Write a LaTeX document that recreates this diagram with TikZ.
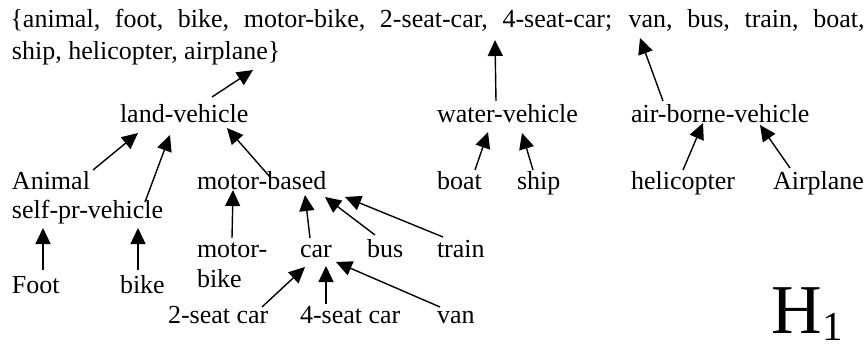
\documentclass[tikz,border=0pt]{standalone}
\usepackage{fontspec}
\setmainfont{Liberation Serif}
\usetikzlibrary{arrows.meta}
\begin{document}
\begin{tikzpicture}[x=1pt,y=-1pt,
  lbl/.style={anchor=base west,inner sep=0pt,outer sep=0pt,font=\fontsize{26}{30}\selectfont},
  arr/.style={line width=1.4pt,-{Triangle[length=16pt,width=15pt]}}]
\useasboundingbox (0,0) rectangle (868,345);
% top set
\node[lbl] (set) at (10.5,28) {\makebox[854pt][s]{\{animal, foot, bike, motor-bike, 2-seat-car, 4-seat-car; van, bus, train, boat,}};
\node[lbl] (set2) at (12,60) {ship, helicopter, airplane\}};
% level 1
\node[lbl] (land) at (120,122) {land-vehicle};
\node[lbl] (water) at (437,122) {water-vehicle};
\node[lbl] (air) at (631,122) {air-borne-vehicle};
% level 2
\node[lbl] (animal) at (12,189) {Animal};
\node[lbl] (mb) at (197,189) {motor-based};
\node[lbl] (boat) at (437,189) {boat};
\node[lbl] (ship) at (517,189) {ship};
\node[lbl] (heli) at (631,189) {helicopter};
\node[lbl] (plane) at (773,189) {Airplane};
\node[lbl] (selfpr) at (12,218) {self-pr-vehicle};
% level 3
\node[lbl] (mbike) at (197,257) {motor-};
\node[lbl] (mbike2) at (197,287) {bike};
\node[lbl] (car) at (300,257) {car};
\node[lbl] (bus) at (367,257) {bus};
\node[lbl] (train) at (437,257) {train};
\node[lbl] (foot) at (12,293) {Foot};
\node[lbl] (bike) at (120,293) {bike};
% level 4
\node[lbl] (seat2) at (168,323) {2-seat car};
\node[lbl] (seat4) at (300,323) {4-seat car};
\node[lbl] (van) at (437,323) {van};
% H1
\node[anchor=base west,inner sep=0pt,font=\fontsize{70}{70}\selectfont] (H) at (771,333) {H};
\node[anchor=base west,inner sep=0pt,font=\fontsize{41}{41}\selectfont] (Hsub) at (H.base east) [yshift=-7pt] {1};
% arrows
\draw[arr] ([shift={(92,-25)}]land.base west) -- ([shift={(241,10)}]set2.base west);
\draw[arr] ([shift={(59,-21)}]water.base west) -- ([shift={(484.5,12)}]set.base west);
\draw[arr] ([shift={(32,-21)}]air.base west) -- ([shift={(629.5,10)}]set.base west);
\draw[arr] ([shift={(81,-19)}]animal.base west) -- ([shift={(18,11)}]land.base west);
\draw[arr] ([shift={(133,-16)}]selfpr.base west) -- ([shift={(50,13)}]land.base west);
\draw[arr] ([shift={(73,-12)}]mb.base west) -- ([shift={(107,6)}]land.base west);
\draw[arr] ([shift={(38,-19)}]boat.base west) -- ([shift={(51,10)}]water.base west);
\draw[arr] ([shift={(16,-19)}]ship.base west) -- ([shift={(85,11)}]water.base west);
\draw[arr] ([shift={(52,-19)}]heli.base west) -- ([shift={(72,1)}]air.base west);
\draw[arr] ([shift={(17,-21)}]plane.base west) -- ([shift={(129,3)}]air.base west);
\draw[arr] ([shift={(31,-23)}]foot.base west) -- ([shift={(31,10)}]selfpr.base west);
\draw[arr] ([shift={(18,-23)}]bike.base west) -- ([shift={(126,10)}]selfpr.base west);
\draw[arr] ([shift={(35,-19)}]mbike.base west) -- ([shift={(36,1)}]mb.base west);
\draw[arr] ([shift={(10,-19)}]car.base west) -- ([shift={(108,6)}]mb.base west);
\draw[arr] ([shift={(8,-22)}]bus.base west) -- ([shift={(128,8)}]mb.base west);
\draw[arr] ([shift={(6,-20)}]train.base west) -- ([shift={(148,8)}]mb.base west);
\draw[arr] ([shift={(94,-16)}]seat2.base west) -- ([shift={(5,10)}]car.base west);
\draw[arr] ([shift={(26,-19)}]seat4.base west) -- ([shift={(26,9)}]car.base west);
\draw[arr] ([shift={(3,-16)}]van.base west) -- ([shift={(36,5)}]car.base west);
\end{tikzpicture}
\end{document}
